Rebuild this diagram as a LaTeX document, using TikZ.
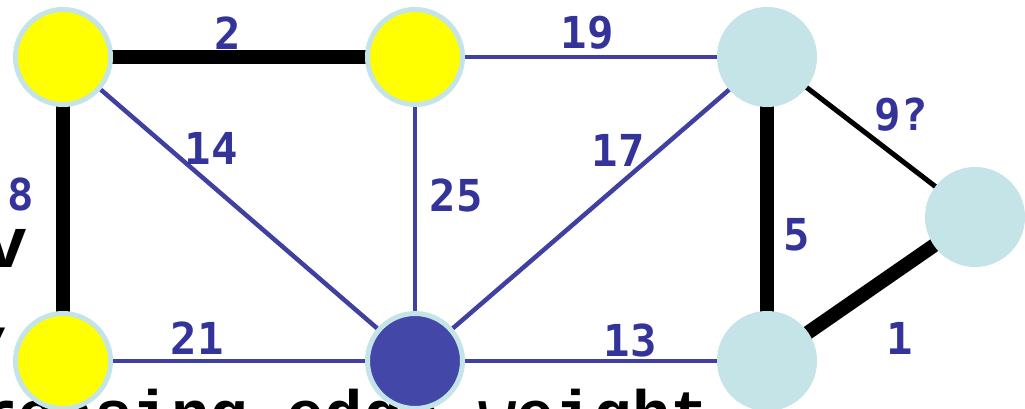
\documentclass[tikz,border=0pt]{standalone}
\usepackage{fontspec}
\newfontfamily\lblfont{DejaVu Sans Mono}[BoldFont={DejaVu Sans Mono Bold}]
\newfontfamily\codefont{Liberation Mono}
\definecolor{lblblue}{RGB}{51,51,153}
\definecolor{edgeblue}{RGB}{64,64,160}
\definecolor{ringcyan}{RGB}{196,228,232}
\definecolor{nodeyellow}{RGB}{255,255,0}
\definecolor{nodedark}{RGB}{67,72,168}
\tikzset{
  vert/.style={circle, minimum size=95pt, inner sep=0pt, draw=ringcyan, line width=5pt},
  yv/.style={vert, fill=nodeyellow},
  cv/.style={vert, fill=ringcyan},
  dv/.style={vert, fill=nodedark},
  heavy/.style={line width=14pt, black},
  medium/.style={line width=5pt, black},
  light/.style={line width=4.5pt, edgeblue},
  wlabel/.style={text=lblblue, font=\lblfont\bfseries\fontsize{44}{44}\selectfont, inner sep=0pt},
  bgtext/.style={text=black, inner sep=0pt, anchor=base west},
}
\begin{document}
\begin{tikzpicture}[x=1pt,y=-1pt]
\useasboundingbox (0,0) rectangle (1025,409);
\clip (0,0) rectangle (1025,409);
% background slide text
\node[bgtext, font=\codefont\bfseries\fontsize{64}{64}\selectfont] (t1) at (-136,435) {increasing edge weight};
\node[bgtext, font=\codefont\bfseries\fontsize{72}{72}\selectfont] (t2) at (-16,267) {v};
\node[bgtext, font=\codefont\bfseries\fontsize{72}{72}\selectfont] (t3) at (-21,338) {,};
% vertex positions
\coordinate (pA) at (63,57);
\coordinate (pB) at (415,57);
\coordinate (pC) at (767,57);
\coordinate (pD) at (975,217);
\coordinate (pE) at (63,361);
\coordinate (pF) at (415,361);
\coordinate (pG) at (767,361);
% edges
\draw[heavy] (pA) -- (pB);
\draw[heavy] (pA) -- (pE);
\draw[heavy] (pC) -- (pG);
\draw[heavy] (pD) -- (pG);
\draw[medium] (pC) -- (pD);
\draw[light] (pB) -- (pC);
\draw[light] (pA) -- (pF);
\draw[light] (pB) -- (pF);
\draw[light] (pC) -- (pF);
\draw[light] (pE) -- (pF);
\draw[light] (pF) -- (pG);
% vertices
\node[yv] (A) at (pA) {};
\node[yv] (B) at (pB) {};
\node[cv] (C) at (pC) {};
\node[cv] (D) at (pD) {};
\node[yv] (E) at (pE) {};
\node[dv] (F) at (pF) {};
\node[cv] (G) at (pG) {};
% weights
\node[wlabel] (l2) at (228,33) {2};
\node[wlabel] (l19) at (587,33) {19};
\node[wlabel] (l8) at (21,194) {8};
\node[wlabel] (l14) at (211,148) {14};
\node[wlabel] (l25) at (456,195) {25};
\node[wlabel] (l17) at (618,150) {17};
\node[wlabel] (l5) at (797,235) {5};
\node[wlabel] (l9) at (901,115) {9?};
\node[wlabel] (l21) at (197,338) {21};
\node[wlabel] (l13) at (630,340) {13};
\node[wlabel] (l1) at (900,338) {1};
\end{tikzpicture}
\end{document}
